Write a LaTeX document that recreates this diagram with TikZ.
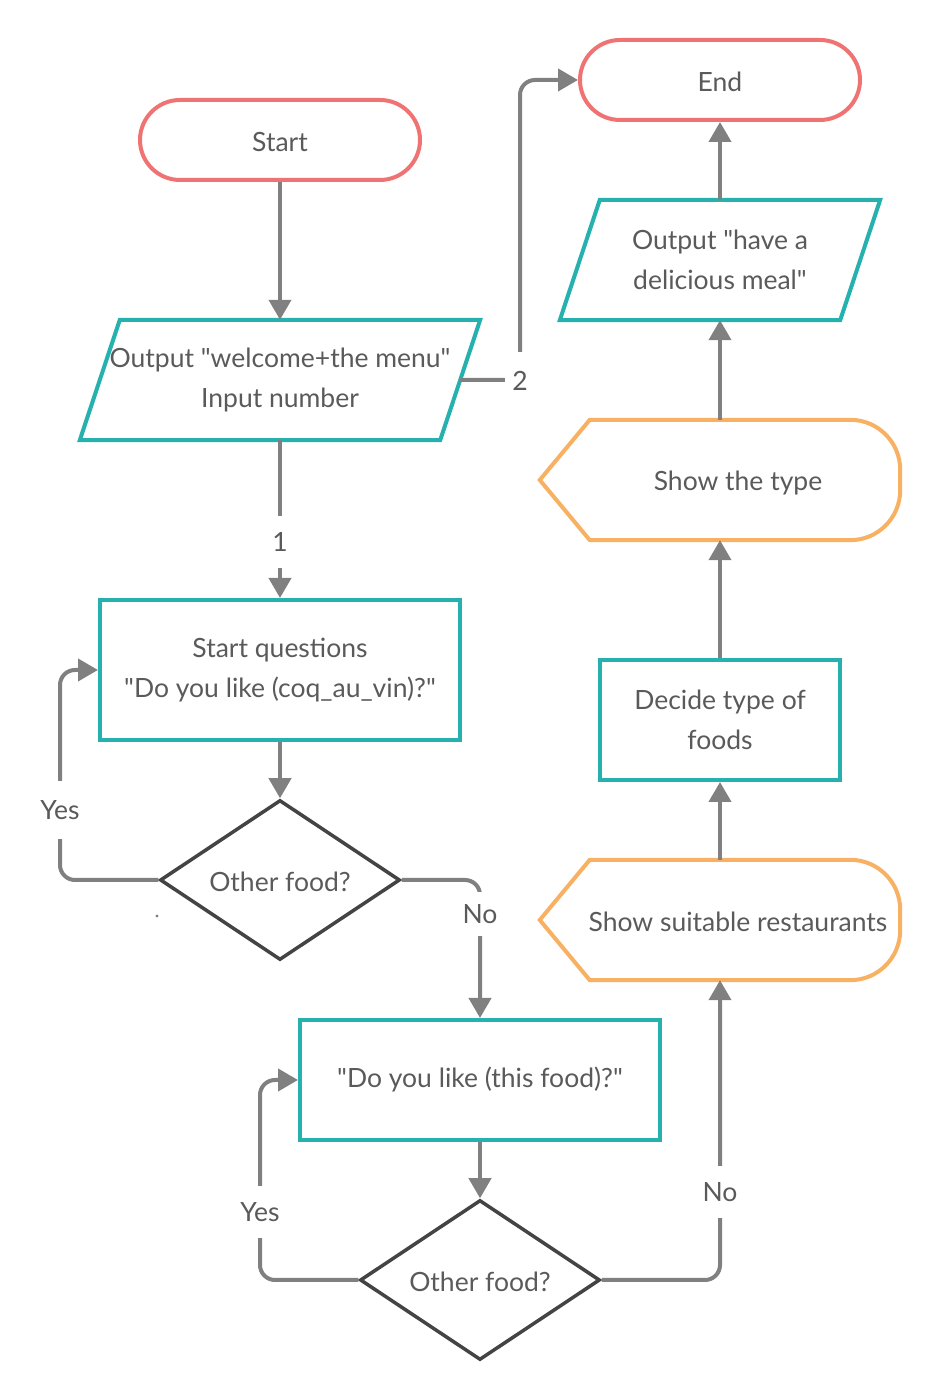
\documentclass[tikz,border=0pt]{standalone}
\usepackage{fontspec}
\setmainfont{Lato}[Ligatures=TeXOff]
\usetikzlibrary{shapes.geometric,arrows.meta}

\definecolor{tealline}{RGB}{38,176,174}
\definecolor{salmon}{RGB}{240,115,115}
\definecolor{orangeline}{RGB}{248,176,98}
\definecolor{connGray}{RGB}{128,128,128}
\definecolor{diaGray}{RGB}{68,68,68}
\definecolor{txtGray}{RGB}{90,90,90}

\tikzset{
  txt/.style={text=txtGray, font={\fontsize{26.5pt}{40pt}\selectfont}, align=center},
  terminal/.style={draw=salmon, line width=4pt, rounded corners=40pt,
    minimum width=280pt, minimum height=80pt, inner sep=0pt},
  procbox/.style={txt, draw=tealline, line width=4pt, minimum width=360pt,
    minimum height=120pt, inner sep=0pt},
  holder/.style={txt, minimum height=120pt, inner sep=0pt},
  ioline/.style={draw=tealline, line width=4pt, line join=miter},
  displine/.style={draw=orangeline, line width=4pt},
  decision/.style={diamond, draw=diaGray, line width=3.5pt, inner sep=0pt,
    minimum width=240pt, minimum height=160pt},
  conn/.style={draw=connGray, line width=4pt, rounded corners=15pt,
    -{Triangle[length=20pt,width=22pt]}},
  lbl/.style={txt, fill=white, inner xsep=3pt, inner ysep=0pt, minimum height=52pt},
}

\begin{document}
\begin{tikzpicture}[x=1pt,y=1pt]
\useasboundingbox (0,0) rectangle (941,1400);

% terminals
\node[terminal, label={[txt, yshift=-2pt]center:Start}] (start) at (280,1260) {};
\node[terminal, label={[txt, yshift=-2pt]center:End}] (end) at (720,1320) {};

% input / output parallelograms
\node[holder, minimum width=360pt] (inout) at (280,1020)
  {Output "welcome+the menu"\\Input number};
\draw[ioline] ([xshift=20pt]inout.north west) -- ([xshift=20pt]inout.north east)
  -- ([xshift=-20pt]inout.south east) -- ([xshift=-20pt]inout.south west) -- cycle;

\node[holder, minimum width=280pt] (meal) at (720,1140)
  {Output "have a\\delicious meal"};
\draw[ioline] ([xshift=20pt]meal.north west) -- ([xshift=20pt]meal.north east)
  -- ([xshift=-20pt]meal.south east) -- ([xshift=-20pt]meal.south west) -- cycle;

% display shapes
\node[holder, minimum width=360pt,
  label={[txt, xshift=18pt, yshift=-3pt]center:Show the type}]
  (showtype) at (720,920) {};
\draw[displine] (showtype.west) -- ([xshift=50pt]showtype.north west)
  -- ([xshift=-50pt]showtype.north east) arc[start angle=90, end angle=0, radius=50pt]
  -- ([yshift=50pt]showtype.south east) arc[start angle=0, end angle=-90, radius=50pt]
  -- ([xshift=50pt]showtype.south west) -- cycle;

\node[holder, minimum width=360pt,
  label={[txt, xshift=18pt, yshift=-2pt]center:Show suitable restaurants}]
  (rest) at (720,480) {};
\draw[displine] (rest.west) -- ([xshift=50pt]rest.north west)
  -- ([xshift=-50pt]rest.north east) arc[start angle=90, end angle=0, radius=50pt]
  -- ([yshift=50pt]rest.south east) arc[start angle=0, end angle=-90, radius=50pt]
  -- ([xshift=50pt]rest.south west) -- cycle;

% process boxes
\node[procbox, minimum width=240pt] (decide) at (720,680) {Decide type of\\foods};
\node[procbox, minimum height=140pt] (q1) at (280,730)
  {Start questions\\"Do you like (coq\_au\_vin)?"};
\node[procbox] (q2) at (480,320) {"Do you like (this food)?"};

% decisions
\node[decision, label={[txt, yshift=-2pt]center:Other food?}] (d1) at (280,520) {};
\node[decision, label={[txt, yshift=-2pt]center:Other food?}] (d2) at (480,120) {};

% connectors
\draw[conn] (start.south) -- (inout.north);
\draw[conn] (inout.south) -- (q1.north);
\draw[conn] (q1.south) -- (d1.north);
\draw[conn] (d1.west) -- (60,520) -- (60,730) -- (q1.west);
\draw[conn] (d1.east) -- (480,520) -- (q2.north);
\draw[conn] (q2.south) -- (d2.north);
\draw[conn] (d2.west) -- (260,120) -- (260,320) -- (q2.west);
\draw[conn] (d2.east) -- (720,120) -- (rest.south);
\draw[conn] (rest.north) -- (decide.south);
\draw[conn] (decide.north) -- (showtype.south);
\draw[conn] (showtype.north) -- (meal.south);
\draw[conn] (meal.north) -- (end.south);
\draw[conn] (inout.east) -- (520,1020) -- (520,1320) -- (end.west);

% connector labels
\node[lbl] (lone) at (280,858) {1};
\node[lbl, minimum width=30pt, minimum height=58pt] (ltwo) at (520,1019) {2};
\node[lbl, minimum height=58pt] (lyes1) at (60,590) {Yes};
\node[lbl, minimum height=44pt] (lno1) at (480,486) {No};
\node[lbl] (lyes2) at (260,188) {Yes};
\node[lbl] (lno2) at (720,208) {No};

% small stray dot
\node[circle, fill=connGray, inner sep=1.2pt] (dot) at (157,484) {};
\end{tikzpicture}
\end{document}
